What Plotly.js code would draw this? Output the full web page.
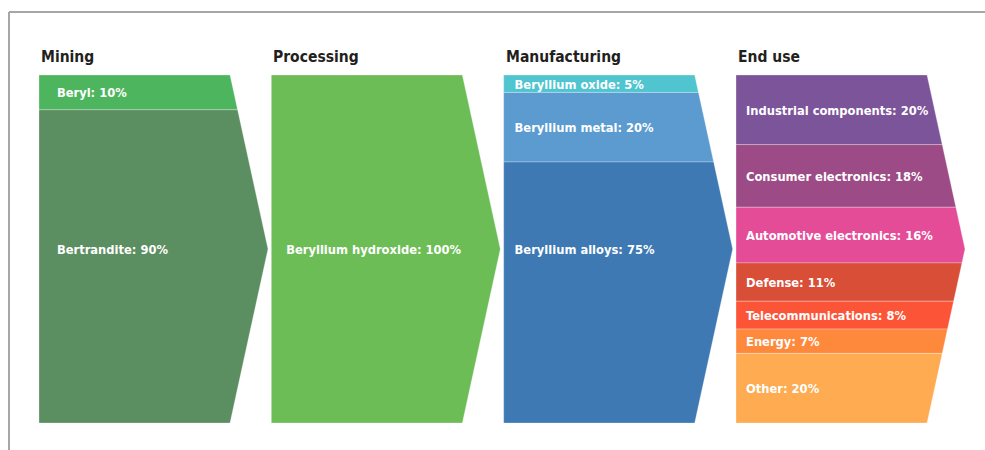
<!DOCTYPE html>
<html>
<head>
<meta charset="utf-8">
<script src="https://cdn.plot.ly/plotly-3.0.1.min.js"></script>
<style>html,body{margin:0;padding:0;background:#fff;}#chart{width:985px;height:450px;}</style>
</head>
<body>
<div id="chart"></div>
<script>
// ---- data ----
var stages = ['Mining', 'Processing', 'Manufacturing', 'End use'];
var miningLabels = ['Beryl', 'Bertrandite'];
var miningShares = [10, 90];
var processingLabels = ['Beryllium hydroxide'];
var processingShares = [100];
var manufacturingLabels = ['Beryllium oxide', 'Beryllium metal', 'Beryllium alloys'];
var manufacturingShares = [5, 20, 75];
var endUseLabels = ['Industrial components', 'Consumer electronics', 'Automotive electronics', 'Defense', 'Telecommunications', 'Energy', 'Other'];
var endUseShares = [20, 18, 16, 11, 8, 7, 20];

// ---- styles ----
var miningColors = ['#4cb55e', '#5b8e60'];
var processingColors = ['#6dbd57'];
var manufacturingColors = ['#50c5cf', '#5b9bd0', '#3e79b3'];
var endUseColors = ['#7b5499', '#9c4b86', '#e54c98', '#d84e37', '#fc5437', '#fe893d', '#feab52'];
var labelInsets = [0.077, 0.064, 0.047, 0.043];

var columns = [
  {labels: miningLabels, shares: miningShares, colors: miningColors},
  {labels: processingLabels, shares: processingShares, colors: processingColors},
  {labels: manufacturingLabels, shares: manufacturingShares, colors: manufacturingColors},
  {labels: endUseLabels, shares: endUseShares, colors: endUseColors}
];

var W = 0.822;   // body width in column units
var T = 0.1635;  // chevron tip depth
var FONT = '"DejaVu Sans Condensed", "Liberation Sans", sans-serif';

function xr(i, p) { return i + W + T * (1 - Math.abs(p - 50) / 50); }

var traces = [];
var lx = [], ly = [], lt = [];
columns.forEach(function (col, i) {
  var acc = 0;
  col.shares.forEach(function (s, k) {
    var a = acc, b = acc + s;
    acc = b;
    var xs = [i, xr(i, a)], ys = [a, a];
    if (a < 50 && b > 50) { xs.push(i + W + T); ys.push(50); }
    xs.push(xr(i, b), i, i); ys.push(b, b, a);
    traces.push({
      type: 'scatter', mode: 'lines', x: xs, y: ys, fill: 'toself',
      fillcolor: col.colors[k], line: {color: 'rgba(255,255,255,0.35)', width: 0.8},
      hoverinfo: 'skip', showlegend: false
    });
    lx.push(i + labelInsets[i]);
    ly.push((s > 50 ? 50 : (a + b) / 2) + 0.5);
    lt.push('<b>' + col.labels[k] + ': ' + s + '%</b>');
  });
});
traces.push({
  type: 'scatter', mode: 'text', x: lx, y: ly, text: lt,
  textposition: 'middle right', cliponaxis: false,
  textfont: {family: FONT, size: 12.8, color: '#ffffff'},
  hoverinfo: 'skip', showlegend: false
});

var annotations = stages.map(function (s, i) {
  return {
    xref: 'x', yref: 'paper', x: i, y: 1 + 18 / 348, xanchor: 'left', yanchor: 'middle',
    text: '<b>' + s + '</b>', showarrow: false,
    font: {family: FONT, size: 15.5, color: '#231f20'}
  };
});

var layout = {
  width: 985, height: 450,
  margin: {l: 39, r: 20, t: 75, b: 27},
  paper_bgcolor: '#ffffff', plot_bgcolor: '#ffffff',
  xaxis: {range: [0, 3 + W + T], visible: false, fixedrange: true},
  yaxis: {range: [100, 0], visible: false, fixedrange: true},
  showlegend: false,
  annotations: annotations,
  shapes: [
    {type: 'line', xref: 'paper', yref: 'paper', x0: -30 / 926, x1: -30 / 926, y0: -0.1, y1: 1 + 63 / 348, line: {color: '#a6a6a6', width: 2}},
    {type: 'line', xref: 'paper', yref: 'paper', x0: -30 / 926, x1: 1.03, y0: 1 + 63 / 348, y1: 1 + 63 / 348, line: {color: '#a6a6a6', width: 2}}
  ]
};

Plotly.newPlot('chart', traces, layout, {displayModeBar: false, staticPlot: true});
</script>
</body>
</html>
